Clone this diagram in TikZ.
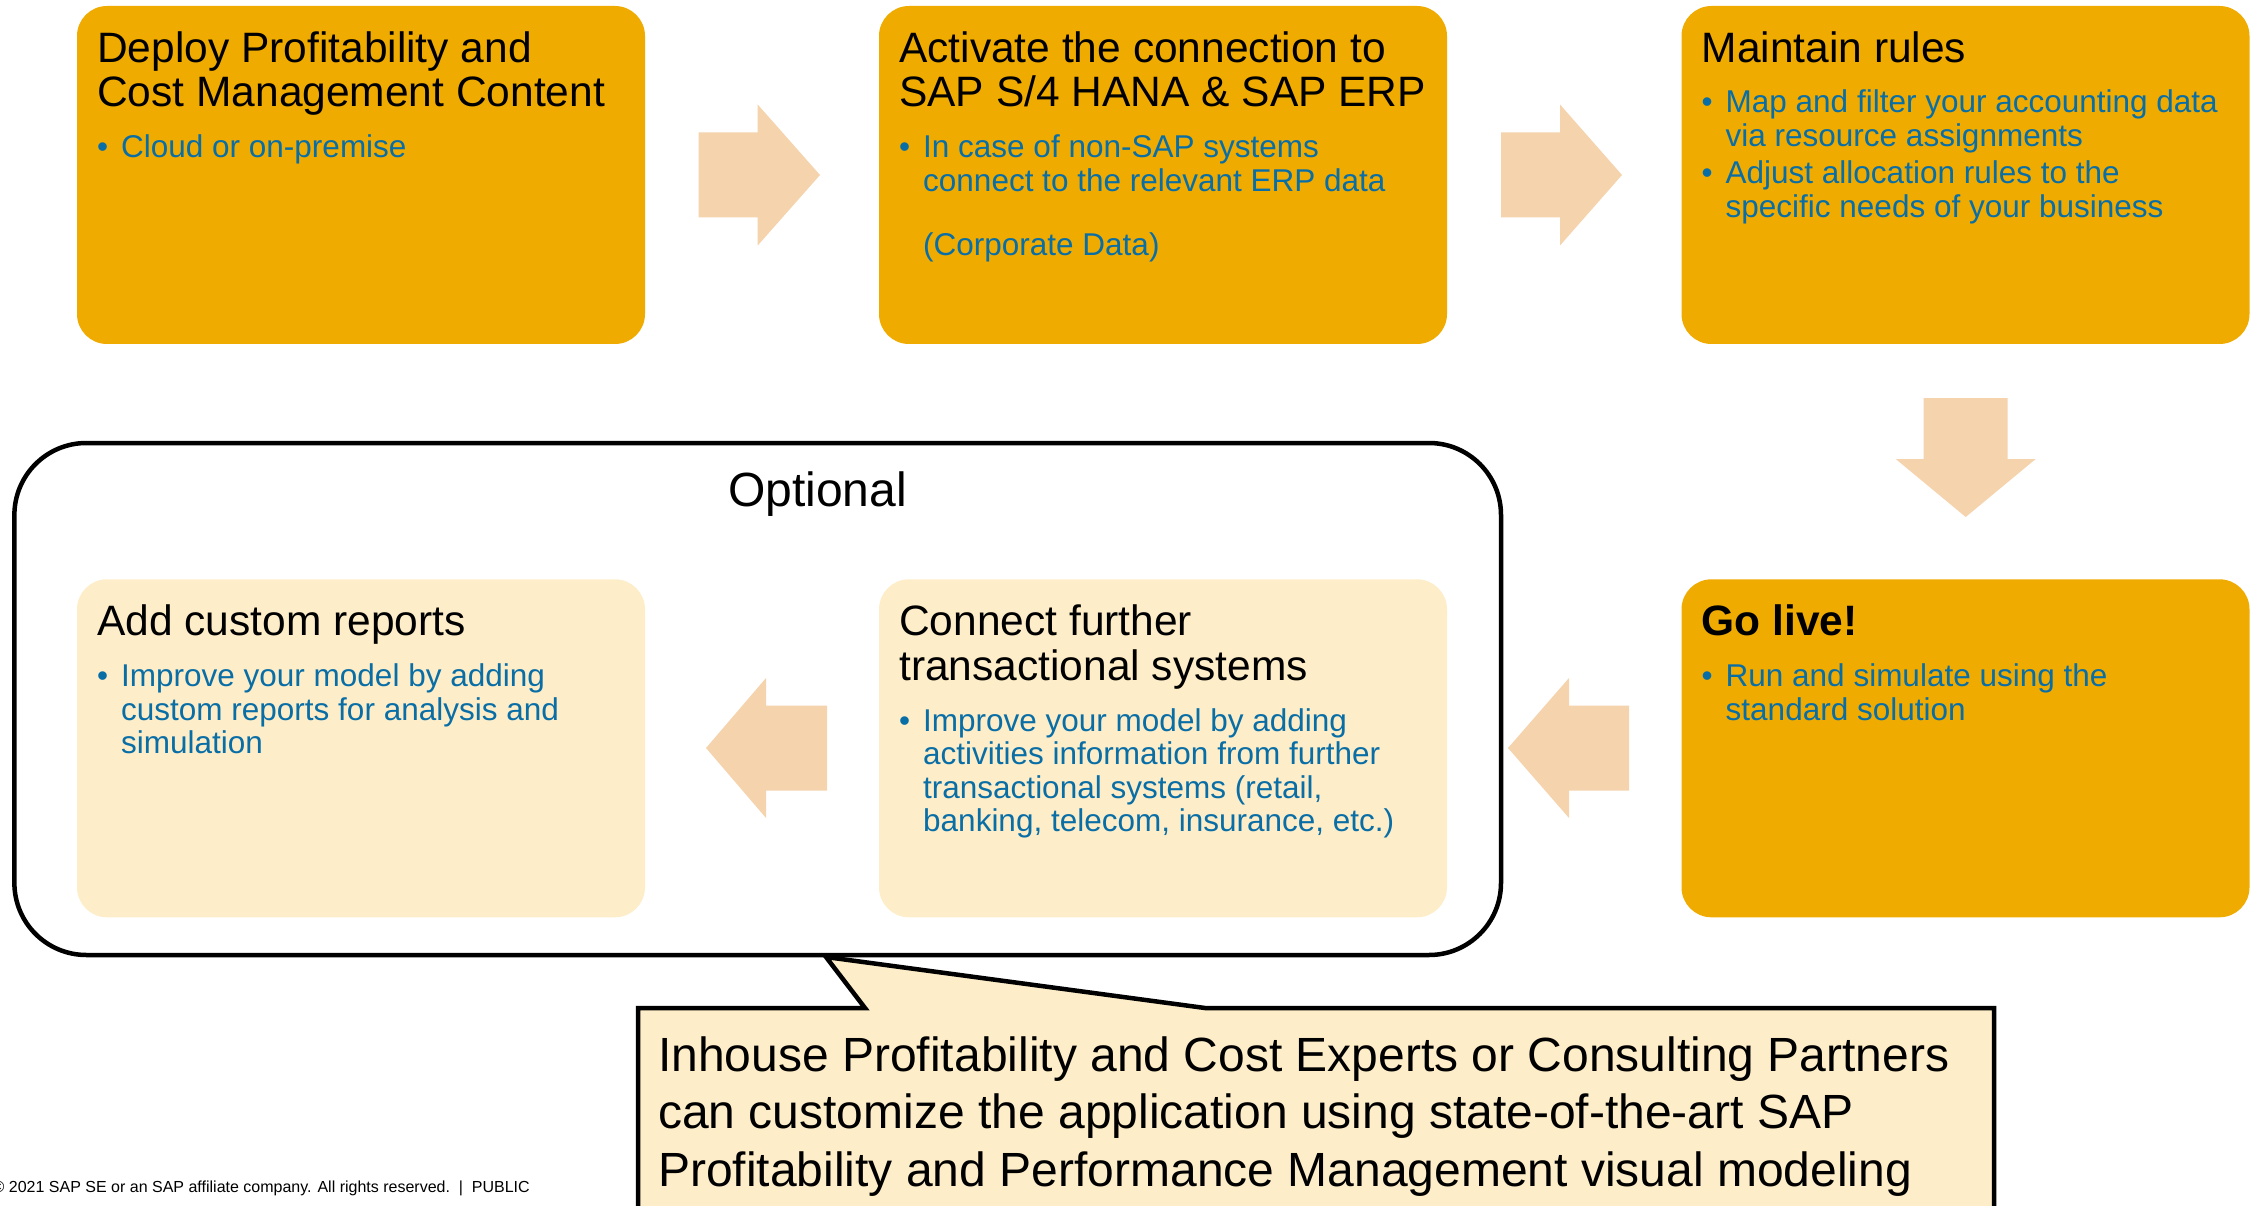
\documentclass[tikz,border=0pt]{standalone}
\usepackage{fontspec}
\setmainfont{Liberation Sans}
\usetikzlibrary{calc}
\definecolor{gold}{HTML}{F0AB00}
\definecolor{pale}{HTML}{FDEDC8}
\definecolor{arrowc}{HTML}{F5D3AC}
\definecolor{sapblue}{HTML}{0A6EA6}
\newcommand{\titlef}{\fontsize{42.5}{44.5}\selectfont\color{black}}
\newcommand{\bodyf}{\fontsize{31.5}{33.5}\selectfont\color{sapblue}}
\newcommand{\bul}{\hangindent=24pt\hangafter=1\noindent\makebox[24pt][l]{\textbullet}}
\newcommand{\boxtext}[1]{\parbox[t]{545pt}{\leavevmode #1}}
\tikzset{
  stepbox/.style={rectangle, rounded corners=30pt, minimum width=568pt, minimum height=338pt, inner sep=0pt, draw=none},
  goldbox/.style={stepbox, fill=gold},
  palebox/.style={stepbox, fill=pale},
  blockarrow/.style={fill=arrowc, draw=none},
  txt/.style={inner sep=0pt, anchor=base west},
}
\begin{document}
\begin{tikzpicture}[x=1pt,y=-1pt]
\useasboundingbox (0,0) rectangle (2263,1206);
% top row
\node[goldbox] (b1) at (361,175) {};
\node[goldbox] (b2) at (1163,175) {};
\node[goldbox] (b3) at (1965.5,175) {};
% bottom row
\node[palebox] (b6) at (361,748.3) {};
\node[palebox] (b5) at (1163,748.3) {};
\node[goldbox] (b4) at (1965.5,748.3) {};
% texts
\node[txt] (t1) at ($(b1.north west)+(20.2,56.5)$) {\boxtext{\titlef Deploy Profitability and\\Cost Management Content\par
  \vspace{17.5pt}\bodyf\bul Cloud or on-premise\par}};
\node[txt] (t2) at ($(b2.north west)+(20.2,56.5)$) {\boxtext{\titlef Activate the connection to\\SAP S/4 HANA \& SAP ERP\par
  \vspace{17.5pt}\bodyf\bul In case of non-SAP systems\\connect to the relevant ERP data\\\mbox{}\\[-3pt](Corporate Data)\par}};
\node[txt] (t3) at ($(b3.north west)+(20.2,56.5)$) {\boxtext{\titlef Maintain rules\par
  \vspace{17pt}\bodyf\bul Map and filter your accounting data\\via resource assignments\par
  \vspace{4pt}\bul Adjust allocation rules to the\\specific needs of your business\par}};
\node[txt] (t4) at ($(b4.north west)+(20.2,56.5)$) {\boxtext{\titlef\bfseries Go live!\par
  \vspace{17.5pt}\bodyf\mdseries\bul Run and simulate using the\\standard solution\par}};
\node[txt] (t5) at ($(b5.north west)+(20.2,56.5)$) {\boxtext{\titlef Connect further\\transactional systems\par
  \vspace{17.5pt}\bodyf\bul Improve your model by adding\\activities information from further\\transactional systems (retail,\\banking, telecom, insurance, etc.)\par}};
\node[txt] (t6) at ($(b6.north west)+(20.2,56.5)$) {\boxtext{\titlef Add custom reports\par
  \vspace{17.5pt}\bodyf\bul Improve your model by adding\\custom reports for analysis and\\simulation\par}};
% block arrows
\fill[blockarrow] (698.5,132.5) -- (757.7,132.5) -- (757.7,104.5) -- (820,175) -- (757.7,245.5) -- (757.7,217.5) -- (698.5,217.5) -- cycle;
\fill[blockarrow] (1501,132.5) -- (1560,132.5) -- (1560,104.5) -- (1622,175) -- (1560,245.5) -- (1560,217.5) -- (1501,217.5) -- cycle;
\fill[blockarrow] (1923.7,398) -- (2007.7,398) -- (2007.7,459) -- (2035.7,459) -- (1965.7,517) -- (1895.7,459) -- (1923.7,459) -- cycle;
\fill[blockarrow] (1629,705.5) -- (1569,705.5) -- (1569,678) -- (1508,748) -- (1569,818) -- (1569,790.5) -- (1629,790.5) -- cycle;
\fill[blockarrow] (827,705.5) -- (766,705.5) -- (766,678) -- (706,748) -- (766,818) -- (766,790.5) -- (827,790.5) -- cycle;
% optional frame
\node[draw, line width=4.5pt, rounded corners=72pt, minimum width=1486.6pt, minimum height=512pt, inner sep=0pt] (opt) at (757.7,699) {};
\node[inner sep=0pt, anchor=base, font=\fontsize{48}{50}\selectfont] (optlabel) at (817.6,506.5) {Optional};
% callout
\coordinate (apex) at (826,957);
\draw[fill=pale, line width=4.5pt, line join=miter] (638,1008) -- (865,1008) -- (apex) -- (1205,1008) -- (1994,1008) -- (1994,1240) -- (638,1240) -- cycle;
\node[txt] (callt) at (658,1071) {\parbox[t]{1330pt}{\leavevmode\fontsize{48}{57.7}\selectfont Inhouse Profitability and Cost Experts or Consulting Partners\\can customize the application using state-of-the-art SAP\\Profitability and Performance Management visual modeling}};
% footer
\node[inner sep=0pt, anchor=base east, font=\fontsize{16}{18}\selectfont] (footer) at (530,1192) {© 2021 SAP SE or an SAP affiliate company. All rights reserved.\ \ |\ \ PUBLIC};
\end{tikzpicture}
\end{document}
